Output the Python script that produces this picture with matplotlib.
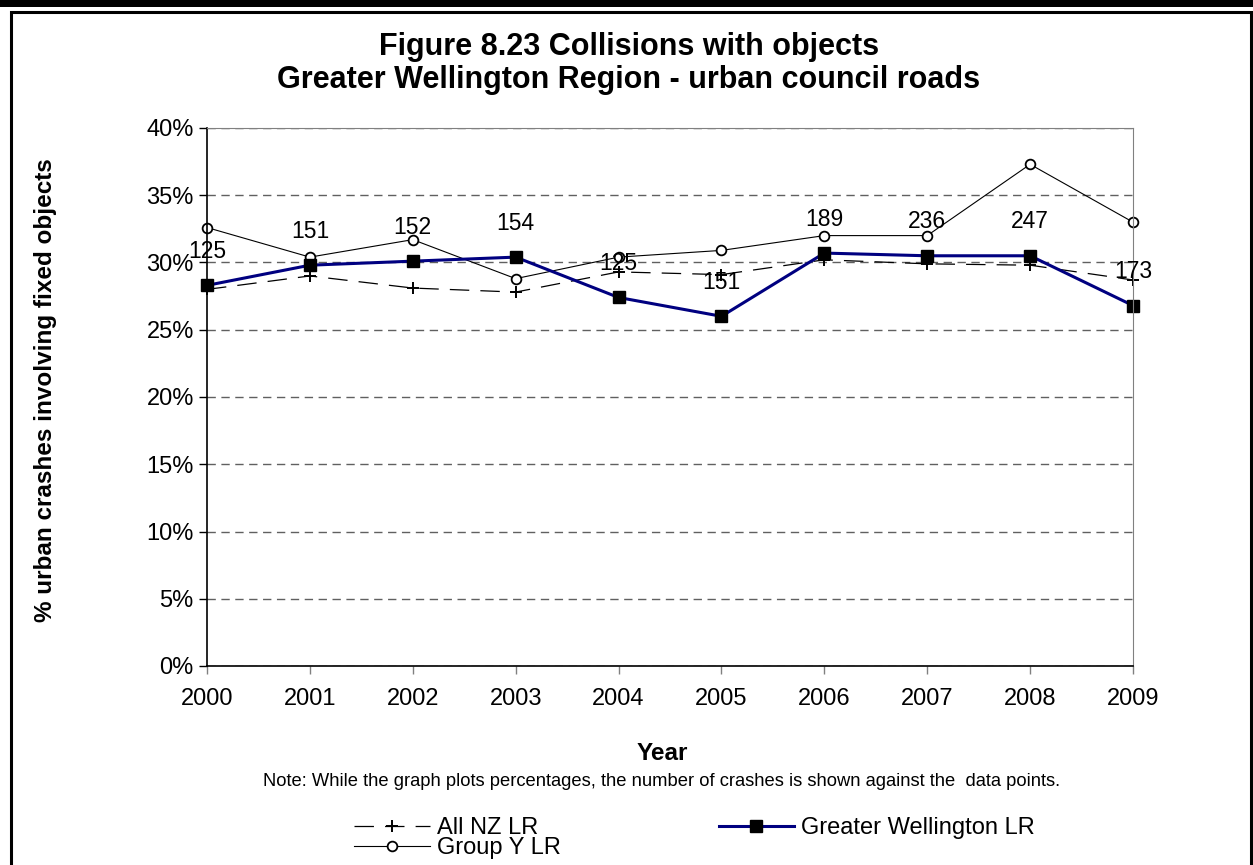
import matplotlib
matplotlib.use("Agg")
import matplotlib.pyplot as plt
from matplotlib.patches import Rectangle
from matplotlib.ticker import MultipleLocator, PercentFormatter

plt.rcParams['font.family'] = ['Liberation Sans', 'DejaVu Sans']
plt.rcParams['lines.scale_dashes'] = False

years = [2000, 2001, 2002, 2003, 2004, 2005, 2006, 2007, 2008, 2009]
all_nz = [28.0, 29.0, 28.1, 27.8, 29.3, 29.1, 30.2, 29.9, 29.8, 28.7]
group_y = [32.6, 30.4, 31.7, 28.8, 30.4, 30.9, 32.0, 32.0, 37.3, 33.0]
wellington = [28.3, 29.8, 30.1, 30.4, 27.4, 26.0, 30.7, 30.5, 30.5, 26.8]
crash_counts = ['125', '151', '152', '154', '125', '151', '189', '236', '247', '173']

fig = plt.figure(figsize=(12.53, 8.65), dpi=100)

##page frame and heavy rule at the top
fig.add_artist(Rectangle((0, 1 - 7 / 865), 1, 7 / 865, transform=fig.transFigure,
                         color='black', lw=0))
fig.add_artist(Rectangle((10.5 / 1253, -0.1), (1251 - 10.5) / 1253, 1.1 - 12.5 / 865,
                         transform=fig.transFigure, fill=False, ec='black', lw=2.2))

ax = fig.add_axes([207 / 1253, 1 - 666 / 865, 926 / 1253, 538 / 865])

nz_line, = ax.plot(years, all_nz, color='black', lw=0.9, dashes=(14, 8),
                   marker='+', ms=9, mew=1.4, mec='black', clip_on=False)
gy_line, = ax.plot(years, group_y, color='black', lw=0.8,
                   marker='o', ms=7, mfc='white', mec='black', mew=1.3, clip_on=False)
gw_line, = ax.plot(years, wellington, color='#000080', lw=2.2,
                   marker='s', ms=9, mfc='black', mec='black', clip_on=False)

##crash counts above the Wellington points
for x, y, lab in zip(years, wellington, crash_counts):
    ax.annotate(lab, (x, y), xytext=(0, 24.5), textcoords='offset points',
                ha='center', va='center', fontsize=16.5)

ax.set_xlim(2000, 2009)
ax.set_ylim(0, 40)
ax.set_xticks(years)
ax.yaxis.set_major_locator(MultipleLocator(5))
ax.yaxis.set_major_formatter(PercentFormatter(decimals=0))
ax.tick_params(axis='both', labelsize=17, length=6, width=1, direction='out')
ax.tick_params(axis='x', pad=10, color='#808080')
ax.grid(axis='y', color='#606060', lw=1, dashes=(6, 4))
ax.set_axisbelow(True)
for side in ['top', 'right']:
    ax.spines[side].set_color('#808080')
for side in ['left', 'bottom']:
    ax.spines[side].set_color('black')
    ax.spines[side].set_linewidth(1.2)

fig.text(0.502, 1 - 47 / 865, 'Figure 8.23 Collisions with objects', ha='center', va='center',
         fontsize=22, fontweight='bold')
fig.text(0.502, 1 - 80 / 865, 'Greater Wellington Region - urban council roads', ha='center',
         va='center', fontsize=22, fontweight='bold')
fig.text(46 / 1253, 1 - 390 / 865, '% urban crashes involving fixed objects', rotation=90,
         ha='center', va='center', fontsize=17.5, fontweight='bold')
fig.text(662 / 1253, 1 - 754 / 865, 'Year', ha='center', va='center', fontsize=17.5,
         fontweight='bold')
fig.text(662 / 1253, 1 - 781 / 865,
         'Note: While the graph plots percentages, the number of crashes is shown against the  data points.',
         ha='center', va='center', fontsize=13.2)

fig.legend([nz_line, gy_line, gw_line], ['All NZ LR', 'Group Y LR', 'Greater Wellington LR'],
           ncol=2, loc='upper left', bbox_to_anchor=(354 / 1253, 1 - 817 / 865),
           frameon=False, fontsize=17, handlelength=3.2, handletextpad=0.3,
           labelspacing=-0.08, columnspacing=6.7, borderpad=0, borderaxespad=0)

fig.savefig('out.png', dpi=100)
